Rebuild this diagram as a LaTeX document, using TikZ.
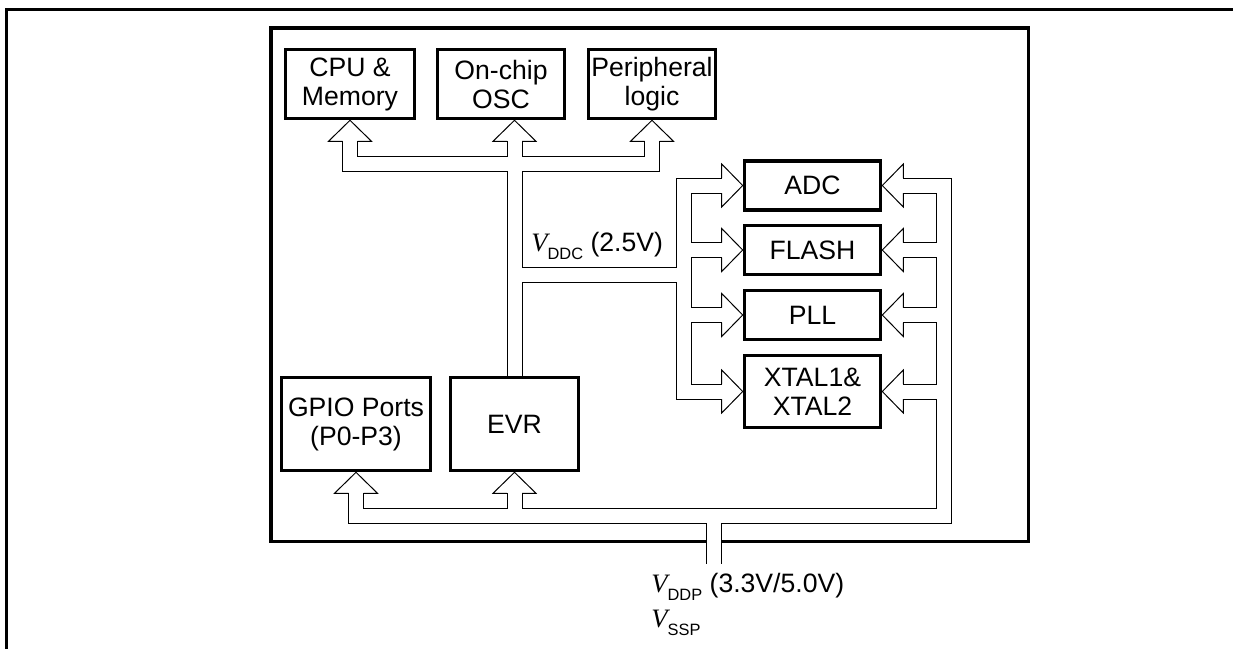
\documentclass[tikz,border=0pt]{standalone}
\usepackage{fontspec}
\setmainfont{Liberation Sans}
\newfontfamily\serifv{Liberation Serif}
\usetikzlibrary{calc}

\newcommand\vsub[1]{{\serifv\itshape V}\raisebox{-4pt}{\fontsize{8.2}{9}\selectfont #1}}

\begin{document}
\begin{tikzpicture}[
    x=0.5pt, y=-0.5pt,
    every node/.style = {font=\fontsize{13.3}{14.5}\selectfont},
    blk/.style        = {rectangle, draw, line width=1.8pt, align=center, inner sep=0.5pt},
    frame/.style      = {line width=1.6pt},
    bus/.style        = {line width=0.5pt, double, double distance=7pt},
    lbl/.style        = {anchor=base west, inner sep=0pt},
    hhead/.pic        = {\draw[line width=0.5pt] (-21,7.5) -- (-21,21.5) -- (0,0)
                                                 -- (-21,-21.5) -- (-21,-7.5);}
]
\useasboundingbox (0,0) rectangle (1233,649);

% Page frame and chip outline
\draw[frame] (1233,9.3) -- (6.7,9.3) -- (6.7,649);
\draw[frame] (271,28) rectangle (1028.5,541.7);

% Top row
\node[blk, minimum width=64.5pt, minimum height=34.5pt] (cpu) at (350,84)   {CPU \&\\Memory};
\node[blk, minimum width=63.5pt, minimum height=34.5pt] (osc) at (501,84)   {On-chip\\OSC};
\node[blk, minimum width=63.5pt, minimum height=34.5pt] (per) at (652,84)   {Peripheral\\logic};

% Analog column
\node[blk, minimum width=68pt, minimum height=24.5pt] (adc)   at (812.5,185.5) {ADC};
\node[blk, minimum width=68pt, minimum height=24.5pt] (flash) at (812.5,250)   {FLASH};
\node[blk, minimum width=68pt, minimum height=24.5pt] (pll)   at (812.5,315)   {PLL};
\node[blk, minimum width=68pt, minimum height=36pt]   (xtal)  at (812.5,391.5) {XTAL1\&\\XTAL2};

% Bottom row
\node[blk, minimum width=74.5pt, minimum height=46.5pt] (gpio) at (356,424)   {GPIO Ports\\(P0-P3)};
\node[blk, minimum width=64pt,   minimum height=46.5pt] (evr)  at (514.5,424) {EVR};

% Bus corners
\coordinate (trunk)   at (514.5,164);
\coordinate (combL)   at (684,275);
\coordinate (combR)   at (944,515.5);
\coordinate (vddpEnd) at (714,564);

% V_DDC bus from EVR
\draw[bus]
  ($(cpu.south)+(0,21)$) |- (trunk) -| ($(per.south)+(0,21)$)
  ($(osc.south -| trunk)+(0,21)$) -- (evr.north)
  (trunk |- combL) -- (combL)
  ($(adc.west)+(-21,0)$) -| (combL) |- ($(xtal.west)+(-21,0)$)
  (flash.west -| combL) -- ($(flash.west)+(-21,0)$)
  (pll.west -| combL)   -- ($(pll.west)+(-21,0)$);

% V_DDP bus from the pins
\draw[bus]
  ($(gpio.south)+(0,21)$) |- (combR) |- ($(adc.east)+(21,0)$)
  ($(evr.south)+(0,21)$) -- (evr.south |- combR)
  (flash.east -| combR) -- ($(flash.east)+(21,0)$)
  (pll.east -| combR)   -- ($(pll.east)+(21,0)$)
  (xtal.east -| combR)  -- ($(xtal.east)+(21,0)$)
  (vddpEnd |- combR) -- (vddpEnd);

% Hollow arrow heads
\pic[rotate=90] at (cpu.south) {hhead};
\pic[rotate=90] at (osc.south -| trunk) {hhead};
\pic[rotate=90] at (per.south) {hhead};
\pic[rotate=90] at (gpio.south) {hhead};
\pic[rotate=90] at (evr.south) {hhead};
\foreach \b in {adc,flash,pll,xtal} {
  \pic at (\b.west) {hhead};
  \pic[rotate=180] at (\b.east) {hhead};
}

% Supply labels
\node[lbl] (vddc) at (531,251) {\vsub{DDC} (2.5V)};
\node[lbl] (vddp) at (651,592) {\vsub{DDP} (3.3V/5.0V)};
\node[lbl] (vssp) at (651,627) {\vsub{SSP}};

\end{tikzpicture}
\end{document}
